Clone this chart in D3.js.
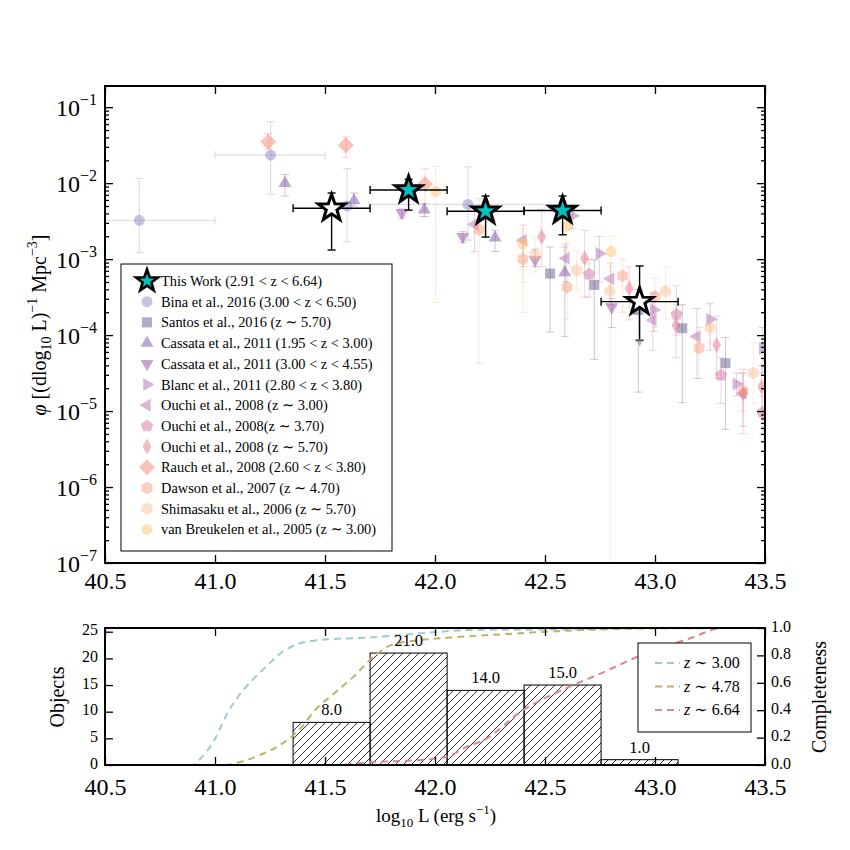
<!DOCTYPE html>
<html>
<head>
<meta charset="utf-8">
<script src="https://cdn.jsdelivr.net/npm/d3@7"></script>
<style>
body{margin:0;background:#fff;}
text{font-family:"Liberation Serif","DejaVu Serif",serif;fill:#000;}
</style>
</head>
<body>
<script>
// ---------------- data ----------------
var xLim = [40.5, 43.5];
var phiLim = [1e-7, 0.19];
var xTicks = [40.5, 41.0, 41.5, 42.0, 42.5, 43.0, 43.5];
var decades = [-7, -6, -5, -4, -3, -2, -1];

// This Work: [log L, log phi, log phi low, log phi high, L low, L high]
var thisWork = [
	[41.53, -2.33, -2.88, -2.13, 41.355, 41.705],
	[41.88, -2.09, -2.355, -1.95, 41.705, 42.055],
	[42.23, -2.37, -2.71, -2.17, 42.055, 42.405],
	[42.58, -2.36, -2.68, -2.17, 42.405, 42.755],
	[42.93, -3.56, -4.07, -3.09, 42.755, 43.105]
];
var thisWorkOpen = [true, false, false, false, true];

// literature: [log L, log phi, log phi low, log phi high, (L low, L high)]
var bina16 = [
	[40.656, -2.49, -2.91, -1.94, 40.3, 41.0],
	[41.253, -1.63, -2.145, -1.19, 41.0, 41.5],
	[41.60, -2.30, -2.77, -1.81],
	[42.15, -2.28, -2.75, -1.785, 41.7, 42.6]
];
var santos16 = [
	[42.523, -3.19, -3.96, -2.84],
	[42.724, -3.34, -4.32, -3.01],
	[42.924, -3.67, -4.75, -3.40],
	[43.124, -3.91, -4.89, -3.60],
	[43.32, -4.37, -5.24, -4.03]
];
var cassataLo = [
	[41.318, -2.00, -2.17, -1.886],
	[41.632, -2.23, -2.30, -2.13],
	[41.951, -2.35, -2.44, -2.27],
	[42.273, -2.72, -2.90, -2.62],
	[42.59, -3.175, -4.02, -2.84]
];
var cassataHi = [
	[41.849, -2.39, -2.46, -2.34],
	[42.126, -2.705, -2.78, -2.64],
	[42.455, -3.01, -3.10, -2.87],
	[42.803, -3.63, -3.90, -3.52]
];
var blanc11 = [
	[42.625, -2.43, -2.60, -2.30],
	[42.747, -2.925, -3.30, -2.70],
	[42.995, -3.67, -3.95, -3.45],
	[43.25, -3.79, -4.20, -3.58],
	[43.37, -4.645, -4.80, -4.50],
	[43.49, -4.175, -4.50, -3.90]
];
var ouchiZ3 = [
	[42.18, -2.54, -2.90, -2.30],
	[42.40, -2.75, -3.10, -2.55],
	[42.595, -2.99, -3.30, -2.80],
	[42.798, -3.26, -3.60, -3.05],
	[42.99, -3.80, -4.20, -3.55],
	[43.19, -4.02, -4.57, -3.65],
	[43.40, -4.77, -5.20, -4.50]
];
var ouchiZ37 = [
	[42.70, -3.20, -3.50, -3.00],
	[43.098, -3.73, -4.00, -3.35],
	[43.30, -4.53, -4.90, -4.30],
	[43.49, -5.02, -5.30, -4.80]
];
var ouchiZ57 = [
	[42.485, -2.705, -3.10, -2.35],
	[42.68, -2.99, -3.50, -2.62],
	[42.883, -3.385, -3.80, -3.10],
	[43.095, -3.87, -4.30, -3.60],
	[43.28, -4.13, -4.57, -3.75],
	[43.40, -4.77, -5.30, -4.45],
	[43.485, -4.68, -5.00, -4.40]
];
var rauch08 = [
	[41.242, -1.456, -1.55, -1.35],
	[41.595, -1.50, -1.66, -1.39],
	[41.955, -2.01, -2.44, -1.81]
];
var dawson07 = [
	[42.20, -2.61, -4.37, -2.20],
	[42.40, -3.00, -3.30, -2.75],
	[42.60, -3.37, -3.80, -3.10],
	[42.853, -3.22, -3.70, -3.00],
	[43.00, -3.49, -3.90, -3.25],
	[43.20, -4.17, -4.57, -3.90],
	[43.40, -4.74, -5.00, -4.50]
];
var shimasaku06 = [
	[42.455, -2.94, -3.17, -2.70],
	[42.644, -3.145, -3.40, -2.90],
	[42.795, -3.42, -8.00, -3.10],
	[43.048, -3.42, -3.80, -3.10],
	[43.25, -3.90, -4.10, -3.60],
	[43.447, -4.50, -4.90, -4.10]
];
var breukelen05 = [
	[42.003, -2.11, -3.57, -1.78],
	[42.40, -2.80, -3.70, -2.60],
	[42.598, -2.57, -2.90, -2.30],
	[42.80, -2.90, -3.30, -2.70]
];

var legendNames = [
	"This Work (2.91 < z < 6.64)",
	"Bina et al., 2016 (3.00 < z < 6.50)",
	"Santos et al., 2016 (z \u223c 5.70)",
	"Cassata et al., 2011 (1.95 < z < 3.00)",
	"Cassata et al., 2011 (3.00 < z < 4.55)",
	"Blanc et al., 2011 (2.80 < z < 3.80)",
	"Ouchi et al., 2008 (z \u223c 3.00)",
	"Ouchi et al., 2008(z \u223c 3.70)",
	"Ouchi et al., 2008 (z \u223c 5.70)",
	"Rauch et al., 2008 (2.60 < z < 3.80)",
	"Dawson et al., 2007 (z \u223c 4.70)",
	"Shimasaku et al., 2006 (z \u223c 5.70)",
	"van Breukelen et al., 2005 (z \u223c 3.00)"
];

// histogram of objects
var binEdges = [41.355, 41.705, 42.055, 42.405, 42.755, 43.105];
var binCounts = [8, 21, 14, 15, 1];
var objMax = 25.7;
var objTicks = [0, 5, 10, 15, 20, 25];
var compTicks = [0, 0.2, 0.4, 0.6, 0.8, 1.0];

// completeness curves
var compL3 = [40.5, 40.9, 40.93, 41.0, 41.05, 41.11, 41.17, 41.24, 41.31, 41.39, 41.46, 41.54, 41.69, 41.85, 42.0, 42.15, 42.6, 43.0, 43.5];
var comp3 = [0, 0, 0.04, 0.19, 0.36, 0.51, 0.62, 0.73, 0.83, 0.89, 0.91, 0.92, 0.93, 0.95, 0.97, 0.985, 0.99, 1.0, 1.0];
var compL478 = [40.5, 41.05, 41.11, 41.2, 41.3, 41.39, 41.46, 41.54, 41.63, 41.72, 41.8, 41.92, 42.07, 42.37, 42.67, 42.98, 43.5];
var comp478 = [0, 0, 0.02, 0.07, 0.15, 0.27, 0.41, 0.52, 0.645, 0.79, 0.875, 0.91, 0.93, 0.96, 0.985, 0.997, 1.0];
var compL664 = [40.5, 41.55, 41.7, 41.85, 42.0, 42.07, 42.14, 42.22, 42.4, 42.61, 42.77, 42.92, 43.16, 43.31, 43.5];
var comp664 = [0, 0, 0.02, 0.03, 0.045, 0.07, 0.13, 0.18, 0.40, 0.57, 0.68, 0.79, 0.925, 1.0, 1.0];
var compLabels = ["3.00", "4.78", "6.64"];

// ---------------- drawing ----------------
var svg = d3.select("body").append("svg").attr("width", 850).attr("height", 850);

var pA = {l: 105, r: 765, t: 86, b: 563};
var pB = {l: 105, r: 765, t: 628, b: 765};

var x = d3.scaleLinear().domain(xLim).range([pA.l, pA.r]);
var y = d3.scaleLog().domain(phiLim).range([pA.b, pA.t]);
var yObj = d3.scaleLinear().domain([0, objMax]).range([pB.b, pB.t]);
var yComp = d3.scaleLinear().domain([0, 1]).range([pB.b, pB.t]);
var yl = function(v){ return y(Math.pow(10, v)); };

// marker shapes
var poly = function(n, R, rot){
	var p = [];
	for(var k = 0; k < n; k++){
		var a = (rot - 90 + k * 360 / n) * Math.PI / 180;
		p.push(R * Math.cos(a) + "," + R * Math.sin(a));
	}
	return "M" + p.join("L") + "Z";
};
var starPath = function(R){
	var p = [], r = R * 0.40;
	for(var k = 0; k < 10; k++){
		var a = (-90 + k * 36) * Math.PI / 180, rr = k % 2 ? r : R;
		p.push(rr * Math.cos(a) + "," + rr * Math.sin(a));
	}
	return "M" + p.join("L") + "Z";
};
var diamond = function(w, h){ return "M0," + (-h) + "L" + w + ",0L0," + h + "L" + (-w) + ",0Z"; };

var shapes = {
	circle: d3.symbol(d3.symbolCircle, Math.PI * 5.5 * 5.5)(),
	square: "M-5,-5h10v10h-10Z",
	up: poly(3, 7.5, 0),
	down: poly(3, 7.5, 180),
	right: poly(3, 7.5, 90),
	left: poly(3, 7.5, -90),
	pent: poly(5, 6.5, 0),
	hex: poly(6, 6.3, 0),
	bigD: diamond(8, 8),
	thinD: diamond(4.5, 8)
};

var sets = [
	{rows: bina16, shape: "circle", color: "#817dbd"},
	{rows: santos16, shape: "square", color: "#53477b"},
	{rows: cassataLo, shape: "up", color: "#694199"},
	{rows: cassataHi, shape: "down", color: "#833791"},
	{rows: blanc11, shape: "right", color: "#a15dad"},
	{rows: ouchiZ3, shape: "left", color: "#b161a9"},
	{rows: ouchiZ37, shape: "pent", color: "#cd659b"},
	{rows: ouchiZ57, shape: "thinD", color: "#e16981"},
	{rows: rauch08, shape: "bigD", color: "#f17969"},
	{rows: dawson07, shape: "hex", color: "#f99771"},
	{rows: shimasaku06, shape: "hex", color: "#fbb98d"},
	{rows: breukelen05, shape: "circle", color: "#fbc161"}
];

var defs = svg.append("defs");
defs.append("clipPath").attr("id", "clipA").append("rect")
	.attr("x", pA.l).attr("y", pA.t).attr("width", pA.r - pA.l).attr("height", pA.b - pA.t);
defs.append("clipPath").attr("id", "clipB").append("rect")
	.attr("x", pB.l).attr("y", pB.t).attr("width", pB.r - pB.l).attr("height", pB.b - pB.t);
var hatch = defs.append("pattern").attr("id", "hatch").attr("patternUnits", "userSpaceOnUse")
	.attr("width", 8).attr("height", 8);
hatch.append("path").attr("d", "M-2,2L2,-2M0,8L8,0M6,10L10,6")
	.attr("stroke", "#000").attr("stroke-width", 0.8);

var errbar = function(g, cx, y1, y2, cap){
	g.append("line").attr("x1", cx).attr("x2", cx).attr("y1", y1).attr("y2", y2);
	g.append("line").attr("x1", cx - cap).attr("x2", cx + cap).attr("y1", y1).attr("y2", y1);
	g.append("line").attr("x1", cx - cap).attr("x2", cx + cap).attr("y1", y2).attr("y2", y2);
};
var xerrbar = function(g, cy, x1, x2, cap){
	g.append("line").attr("x1", x1).attr("x2", x2).attr("y1", cy).attr("y2", cy);
	g.append("line").attr("x1", x1).attr("x2", x1).attr("y1", cy - cap).attr("y2", cy + cap);
	g.append("line").attr("x1", x2).attr("x2", x2).attr("y1", cy - cap).attr("y2", cy + cap);
};

// ---- top panel data
var gA = svg.append("g").attr("clip-path", "url(#clipA)");

sets.forEach(function(s){
	var g = gA.append("g");
	s.rows.forEach(function(r){
		var cx = x(r[0]), cy = yl(r[1]);
		var eg = g.append("g").attr("stroke", s.color).attr("stroke-opacity", 0.3).attr("stroke-width", 1);
		errbar(eg, cx, yl(r[2]), yl(r[3]), 4);
		if(r.length > 4) xerrbar(eg, cy, x(r[4]), x(r[5]), 4);
		g.append("path").attr("d", shapes[s.shape])
			.attr("transform", "translate(" + cx + "," + cy + ")")
			.attr("fill", s.color).attr("fill-opacity", 0.45);
	});
});

var gW = gA.append("g");
thisWork.forEach(function(r, i){
	var cx = x(r[0]), cy = yl(r[1]);
	var eg = gW.append("g").attr("stroke", "#000").attr("stroke-width", 1.4);
	errbar(eg, cx, yl(r[2]), yl(r[3]), 4);
	xerrbar(eg, cy, x(r[4]), x(r[5]), 4);
	if(i === 4){
		gW.append("path").attr("d", poly(3, 5, 180))
			.attr("transform", "translate(" + cx + "," + (yl(r[2]) + 1) + ")")
			.attr("fill", "#888").attr("fill-opacity", 0.6);
	}
});
thisWork.forEach(function(r, i){
	gW.append("path").attr("d", starPath(14))
		.attr("transform", "translate(" + x(r[0]) + "," + yl(r[1]) + ")")
		.attr("fill", thisWorkOpen[i] ? "#fff" : "#00c0c0")
		.attr("stroke", "#000").attr("stroke-width", 3).attr("stroke-linejoin", "miter");
});

// ---- top panel axes
var minors = [];
for(var d = -7; d < 0; d++){
	for(var m = 2; m < 10; m++){
		if(m * Math.pow(10, d) <= phiLim[1]) minors.push(m * Math.pow(10, d));
	}
}
var styleAxis = function(g){
	g.select(".domain").remove();
	g.selectAll(".tick line").attr("stroke", "#000").attr("stroke-width", 1.3);
	g.selectAll(".tick text").attr("font-family", '"Liberation Serif","DejaVu Serif",serif')
		.attr("fill", "#000");
};

svg.append("g").attr("transform", "translate(0," + pA.b + ")")
	.call(d3.axisBottom(x).tickValues(xTicks).tickSize(-8).tickPadding(9).tickFormat(d3.format(".1f")))
	.call(styleAxis).selectAll(".tick text").attr("font-size", 24);
svg.append("g").attr("transform", "translate(0," + pA.t + ")")
	.call(d3.axisTop(x).tickValues(xTicks).tickSize(-8).tickFormat("")).call(styleAxis);
[[pA.l, d3.axisLeft], [pA.r, d3.axisRight]].forEach(function(a){
	svg.append("g").attr("transform", "translate(" + a[0] + ",0)")
		.call(a[1](y).tickValues(decades.map(function(v){ return Math.pow(10, v); })).tickSize(-8).tickFormat(""))
		.call(styleAxis);
	svg.append("g").attr("transform", "translate(" + a[0] + ",0)")
		.call(a[1](y).tickValues(minors).tickSize(-4).tickFormat(""))
		.call(styleAxis);
});

decades.forEach(function(v){
	var t = svg.append("text").attr("x", 97).attr("y", yl(v) + 9)
		.attr("text-anchor", "end").attr("font-size", 24);
	t.append("tspan").text("10");
	t.append("tspan").attr("dy", -11).attr("font-size", 16).text("\u2212" + (-v));
});

var yLab = svg.append("text").attr("transform", "translate(46,325) rotate(-90)")
	.attr("text-anchor", "middle").attr("font-size", 20);
yLab.append("tspan").attr("font-style", "italic").text("\u03c6");
yLab.append("tspan").text(" [(dlog");
yLab.append("tspan").attr("font-size", 14).attr("dy", 5).text("10");
yLab.append("tspan").attr("dy", -5).text(" L)");
yLab.append("tspan").attr("font-size", 14).attr("dy", -9).text("\u22121");
yLab.append("tspan").attr("dy", 9).text(" Mpc");
yLab.append("tspan").attr("font-size", 14).attr("dy", -9).text("\u22123");
yLab.append("tspan").attr("dy", 9).text("]");

svg.append("rect").attr("x", pA.l).attr("y", pA.t).attr("width", pA.r - pA.l).attr("height", pA.b - pA.t)
	.attr("fill", "none").attr("stroke", "#000").attr("stroke-width", 2);

// ---- top legend
var lg = svg.append("g");
lg.append("rect").attr("x", 121).attr("y", 264).attr("width", 271).attr("height", 287)
	.attr("fill", "#fff").attr("stroke", "#000").attr("stroke-width", 1);
legendNames.forEach(function(name, i){
	var ly = 281 + i * 20.7;
	if(i === 0){
		lg.append("path").attr("d", starPath(11.5)).attr("transform", "translate(147," + ly + ")")
			.attr("fill", "#00c0c0").attr("stroke", "#000").attr("stroke-width", 2.6);
	} else {
		var s = sets[i - 1];
		lg.append("path").attr("d", shapes[s.shape]).attr("transform", "translate(147," + ly + ")")
			.attr("fill", s.color).attr("fill-opacity", 0.45);
	}
	lg.append("text").attr("x", 161).attr("y", ly + 5).attr("font-size", 14.4).text(name);
});

// ---- bottom panel
var gB = svg.append("g").attr("clip-path", "url(#clipB)");
binCounts.forEach(function(c, i){
	gB.append("rect").attr("x", x(binEdges[i])).attr("y", yObj(c))
		.attr("width", x(binEdges[i + 1]) - x(binEdges[i])).attr("height", yObj(0) - yObj(c))
		.attr("fill", "url(#hatch)").attr("stroke", "#000").attr("stroke-width", 1);
});
binCounts.forEach(function(c, i){
	svg.append("text").attr("x", (x(binEdges[i]) + x(binEdges[i + 1])) / 2).attr("y", yObj(c) - 7)
		.attr("text-anchor", "middle").attr("font-size", 16.5).text(c.toFixed(1));
});

var compSets = [
	{L: compL3, c: comp3, color: "#9fcbd0"},
	{L: compL478, c: comp478, color: "#bdb46a"},
	{L: compL664, c: comp664, color: "#d98a8a"}
];
var line = d3.line().curve(d3.curveMonotoneX);
compSets.forEach(function(s){
	gB.append("path")
		.attr("d", line(s.L.map(function(v, k){ return [x(v), yComp(s.c[k])]; })))
		.attr("fill", "none").attr("stroke", s.color).attr("stroke-width", 2)
		.attr("stroke-dasharray", "7,5");
});

svg.append("g").attr("transform", "translate(0," + pB.b + ")")
	.call(d3.axisBottom(x).tickValues(xTicks).tickSize(-8).tickPadding(13).tickFormat(d3.format(".1f")))
	.call(styleAxis).selectAll(".tick text").attr("font-size", 24);
svg.append("g").attr("transform", "translate(0," + pB.t + ")")
	.call(d3.axisTop(x).tickValues(xTicks).tickSize(-8).tickFormat("")).call(styleAxis);
svg.append("g").attr("transform", "translate(" + pB.l + ",0)")
	.call(d3.axisLeft(yObj).tickValues(objTicks).tickSize(-8).tickPadding(7))
	.call(styleAxis).selectAll(".tick text").attr("font-size", 16).attr("dy", "0.2em");
svg.append("g").attr("transform", "translate(" + pB.r + ",0)")
	.call(d3.axisRight(yComp).tickValues(compTicks).tickSize(-8).tickPadding(6).tickFormat(d3.format(".1f")))
	.call(styleAxis).selectAll(".tick text").attr("font-size", 16).attr("dy", "0.2em");

svg.append("rect").attr("x", pB.l).attr("y", pB.t).attr("width", pB.r - pB.l).attr("height", pB.b - pB.t)
	.attr("fill", "none").attr("stroke", "#000").attr("stroke-width", 2);

svg.append("text").attr("transform", "translate(64,697) rotate(-90)")
	.attr("text-anchor", "middle").attr("font-size", 20).text("Objects");
svg.append("text").attr("transform", "translate(826,697) rotate(-90)")
	.attr("text-anchor", "middle").attr("font-size", 20).text("Completeness");

var xLab = svg.append("text").attr("x", 436).attr("y", 822).attr("text-anchor", "middle").attr("font-size", 19);
xLab.append("tspan").text("log");
xLab.append("tspan").attr("font-size", 13).attr("dy", 5).text("10");
xLab.append("tspan").attr("dy", -5).text(" L (erg s");
xLab.append("tspan").attr("font-size", 13).attr("dy", -8).text("\u22121");
xLab.append("tspan").attr("dy", 8).text(")");

// bottom legend
var lb = svg.append("g");
lb.append("rect").attr("x", 638).attr("y", 643).attr("width", 113).attr("height", 89)
	.attr("fill", "#fff").attr("stroke", "#000").attr("stroke-width", 1);
compSets.forEach(function(s, i){
	var ly = 663 + i * 23.5;
	lb.append("line").attr("x1", 655).attr("x2", 680).attr("y1", ly).attr("y2", ly)
		.attr("stroke", s.color).attr("stroke-width", 2).attr("stroke-dasharray", "7,5");
	var t = lb.append("text").attr("x", 684).attr("y", ly + 5).attr("font-size", 16);
	t.append("tspan").attr("font-style", "italic").text("z");
	t.append("tspan").text(" \u223c " + compLabels[i]);
});
</script>
</body>
</html>
